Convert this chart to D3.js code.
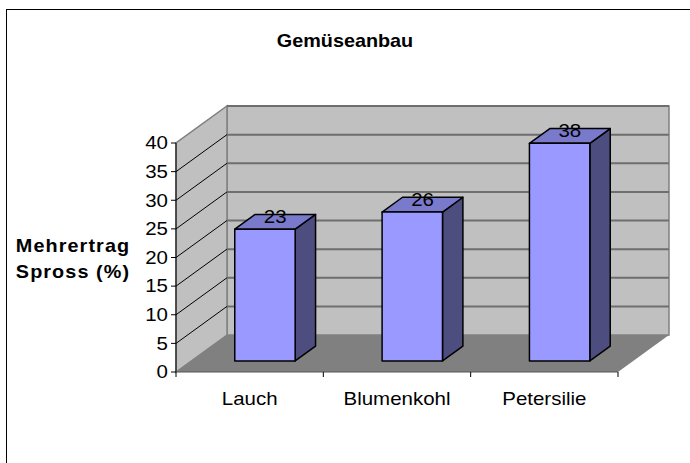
<!DOCTYPE html>
<html>
<head>
<meta charset="utf-8">
<script src="https://cdn.jsdelivr.net/npm/d3@7"></script>
<style>
  body { margin: 0; background: #fff; }
  text { font-family: "Liberation Sans", Arial, sans-serif; fill: #000; }
</style>
</head>
<body>
<svg id="chart" width="690" height="463"></svg>
<script>
// data
const categories = ["Lauch", "Blumenkohl", "Petersilie"];
const values = [23, 26, 38];
const yTicks = [0, 5, 10, 15, 20, 25, 30, 35, 40];

const svg = d3.select("#chart");

// front plane + depth offset of the 3d box
const x0 = 176, x1 = 618;
const DX = 51, DY = -37;
const barDepth = [0.3, 0.7];
// excel text looks a bit stretched wide
const SX = 1.17;
const FS = 17.5;

const x = d3.scaleBand().domain(categories).range([x0, x1]).paddingInner(0).paddingOuter(0);
const y = d3.scaleLinear().domain([0, 40]).range([372, 143]);

// project a point (front x, value, depth 0..1)
function P(px, v, d) {
    return [px + d * DX, y(v) + d * DY];
}
function poly(pts) {
    return pts.map(p => p.join(",")).join(" ");
}

// outer frame
svg.append("rect")
    .attr("x", 6.5).attr("y", 9.5)
    .attr("width", 720).attr("height", 500)
    .attr("fill", "none").attr("stroke", "#000").attr("stroke-width", 1);

// title
svg.append("g")
    .attr("transform", "translate(345,47) scale(1.1,1)")
    .append("text")
    .attr("text-anchor", "middle")
    .attr("font-weight", "bold").attr("font-size", 18)
    .text("Gemüseanbau");

// back wall
svg.append("polygon")
    .attr("points", poly([P(x0, 40, 1), P(x1, 40, 1), P(x1, 0, 1), P(x0, 0, 1)]))
    .attr("fill", "#c0c0c0").attr("stroke", "#808080").attr("stroke-width", 1.5);

// side wall
svg.append("polygon")
    .attr("points", poly([P(x0, 0, 0), P(x0, 40, 0), P(x0, 40, 1), P(x0, 0, 1)]))
    .attr("fill", "#c0c0c0").attr("stroke", "#808080").attr("stroke-width", 1.5);

// floor
svg.append("polygon")
    .attr("points", poly([P(x0, 0, 0), P(x1, 0, 0), P(x1, 0, 1), P(x0, 0, 1)]))
    .attr("fill", "#808080");

// gridlines
const grid = svg.append("g");
grid.selectAll("line.back")
    .data(yTicks.filter(t => t > 0))
    .join("line")
    .attr("class", "back")
    .attr("x1", d => P(x0, d, 1)[0]).attr("y1", d => P(x0, d, 1)[1])
    .attr("x2", d => P(x1, d, 1)[0]).attr("y2", d => P(x1, d, 1)[1])
    .attr("stroke", "#6e6e6e").attr("stroke-width", 2);
grid.selectAll("line.side")
    .data(yTicks.filter(t => t > 0 && t < 40))
    .join("line")
    .attr("class", "side")
    .attr("x1", d => P(x0, d, 0)[0]).attr("y1", d => P(x0, d, 0)[1])
    .attr("x2", d => P(x0, d, 1)[0]).attr("y2", d => P(x0, d, 1)[1])
    .attr("stroke", "#000").attr("stroke-width", 1);

// y axis
svg.append("line")
    .attr("x1", x0).attr("x2", x0)
    .attr("y1", y(40)).attr("y2", y(0))
    .attr("stroke", "#000").attr("stroke-width", 1);
const yt = svg.append("g").selectAll("g").data(yTicks).join("g");
yt.append("line")
    .attr("x1", x0 - 5).attr("x2", x0)
    .attr("y1", d => y(d)).attr("y2", d => y(d))
    .attr("stroke", "#000");
yt.append("g")
    .attr("transform", d => `translate(${x0 - 8},${y(d)}) scale(${SX},1)`)
    .append("text")
    .attr("dy", "0.36em")
    .attr("text-anchor", "end").attr("font-size", FS)
    .text(d => d);

// x axis
svg.append("line")
    .attr("x1", x0).attr("x2", x1)
    .attr("y1", y(0)).attr("y2", y(0))
    .attr("stroke", "#555").attr("stroke-width", 1);
const bounds = categories.map(c => x(c)).concat([x1]);
svg.append("g").selectAll("line").data(bounds).join("line")
    .attr("x1", d => d).attr("x2", d => d)
    .attr("y1", y(0)).attr("y2", y(0) + 5)
    .attr("stroke", "#000");
svg.append("g").selectAll("g").data(categories).join("g")
    .attr("transform", d => `translate(${x(d) + x.bandwidth() / 2},405) scale(${SX},1)`)
    .append("text")
    .attr("text-anchor", "middle").attr("font-size", FS)
    .text(d => d);

// axis title
const yTitle = svg.append("g")
    .attr("transform", "translate(73,0) scale(1.1,1)")
    .append("text")
    .attr("text-anchor", "middle")
    .attr("font-weight", "bold").attr("font-size", 18)
    .attr("letter-spacing", 1);
yTitle.append("tspan").attr("x", 0).attr("y", 252).text("Mehrertrag");
yTitle.append("tspan").attr("x", 0).attr("y", 278).text("Spross (%)");

// bars
const bw = x.bandwidth() * 0.41;
const bars = svg.append("g").selectAll("g")
    .data(categories.map((c, i) => ({name: c, value: values[i]})))
    .join("g");

bars.each(function (d) {
    const g = d3.select(this);
    const xl = x(d.name) + (x.bandwidth() - bw) / 2;
    const xr = xl + bw;
    const [d0, d1] = barDepth;
    // side face
    g.append("polygon")
        .attr("points", poly([P(xr, 0, d0), P(xr, d.value, d0), P(xr, d.value, d1), P(xr, 0, d1)]))
        .attr("fill", "#4d4d80").attr("stroke", "#000").attr("stroke-width", 1.5)
        .attr("stroke-linejoin", "round");
    // top face
    g.append("polygon")
        .attr("points", poly([P(xl, d.value, d0), P(xr, d.value, d0), P(xr, d.value, d1), P(xl, d.value, d1)]))
        .attr("fill", "#7a7acc").attr("stroke", "#000").attr("stroke-width", 1.5)
        .attr("stroke-linejoin", "round");
    // front face
    g.append("polygon")
        .attr("points", poly([P(xl, 0, d0), P(xr, 0, d0), P(xr, d.value, d0), P(xl, d.value, d0)]))
        .attr("fill", "#9999ff").attr("stroke", "#000").attr("stroke-width", 1.5)
        .attr("stroke-linejoin", "round");
    // value label
    const lp = P((xl + xr) / 2, d.value, 0.5);
    g.append("g")
        .attr("transform", `translate(${lp[0]},${lp[1] + 1}) scale(${SX},1)`)
        .append("text")
        .attr("text-anchor", "middle").attr("font-size", FS)
        .text(d.value);
});
</script>
</body>
</html>
